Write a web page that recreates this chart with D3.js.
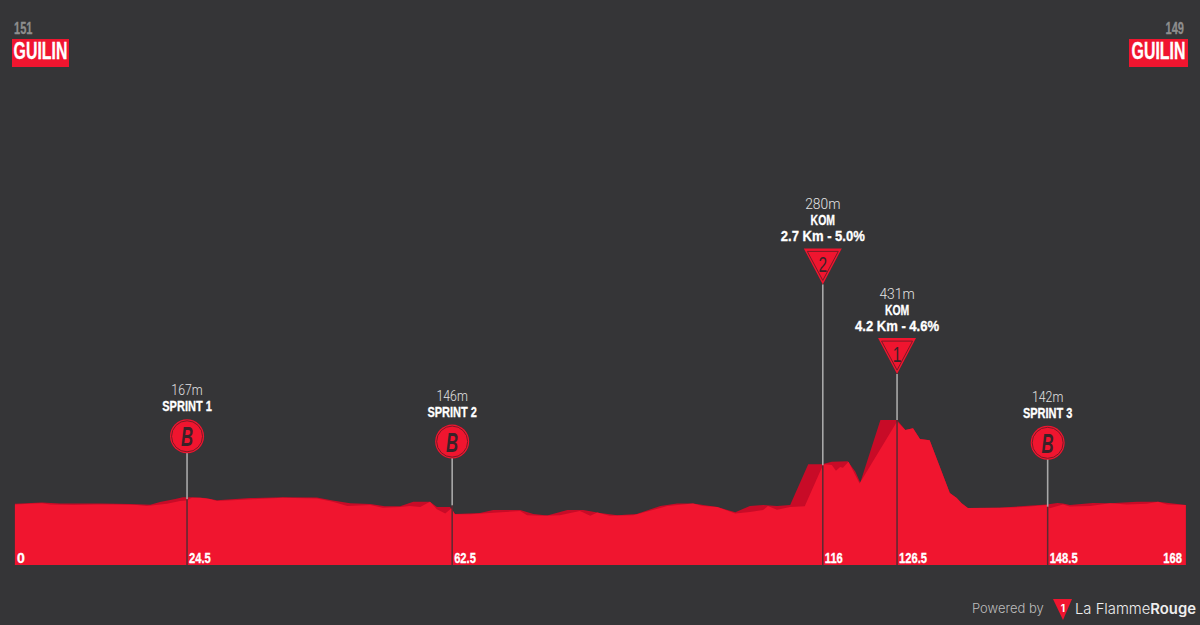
<!DOCTYPE html>
<html>
<head>
<meta charset="utf-8">
<script src="https://cdn.jsdelivr.net/npm/d3@7"></script>
<style>
  html, body { margin: 0; padding: 0; background: #353537; }
  svg { display: block; }
  .bold { font-family: "Liberation Sans", sans-serif; font-weight: 700; fill: #fff; stroke: #fff; stroke-width: 0.3; }
  .thin { font-family: Roboto, sans-serif; font-weight: 300; fill: #e4e4e4; }
</style>
</head>
<body>
<script>
// front profile
var frontKm = [-0.3,1.9,3.6,4.8,8.1,11.5,13.8,17.3,18.7,21.6,23.5,24.4,25.2,26.4,27.8,28.8,31.1,34.6,38.3,43.2,45.5,47.6,50.9,52.7,55.2,56.6,58.1,59.5,60.5,61.7,62.6,63.1,65.3,69.2,72.5,73.5,75.8,78.2,81.1,82.6,83.6,85.4,88.8,91.6,93.7,97.4,98.8,100.9,103.5,105.6,107.5,108.2,109.5,111.4,113.5,116,116.4,117.4,118,118.6,119,119.8,121.4,126.8,128,129.1,130.1,131.5,134.4,135.4,136.1,137,141.6,145,148.4,148.8,150.7,151.7,154.6,157.5,159.9,162.8,164.4,165.7,168.4];
var frontElev = [150,152,154,150,148,150,150,148,145,152,161,163,172,172,168,161,164,168,172,170,159,145,148,139,141,145,141,159,134,120,137,117,117,123,128,114,112,114,128,112,123,112,114,131,145,153,145,141,120,125,131,145,132,141,144,275,284,281,262,275,272,292,220,426,398,404,368,364,188,171,154,138,139,141,148,137,150,143,145,154,150,152,159,150,148];

// back (darker) profile
var backKm = [-0.3,3.6,6.2,12,16.3,19.2,20.6,22.8,23.9,25.2,27.1,28.8,33.6,38.3,43.2,45.5,48,50.9,53,55.2,57.1,59.5,60.5,62.4,63.1,66.7,68.6,72.5,74.4,76.4,79.3,81.6,84,86.5,89.3,92.7,95.1,97.4,100.9,103.5,105.6,107.5,109.5,111.4,114,116,117.4,119.7,120.8,121.5,124.4,126.8,128,129.1,130.1,131.5,134.4,135.4,136.1,137,141.6,148.4,149.9,150.7,151.7,155,157.5,161.4,164.4,168.4];
var backElev = [152,156,153,153,151,149,158,168,174,174,171,164,171,174,173,163,154,151,144,144,159,159,141,141,118,121,131,131,118,113,131,131,121,114,118,145,153,153,141,124,145,148,145,148,284,284,292,294,259,222,431,431,398,404,368,364,188,171,154,138,139,150,155,153,148,155,154,159,159,148];

// markers
var markerKm = [24.5,62.7,116.1,126.8,148.5];
var markerKmLabels = ["24.5","62.5","116","126.5","148.5"];
var markerElev = [167,146,280,431,142];
var markerTypes = ["sprint","sprint","kom","kom","sprint"];
var markerTitles = ["SPRINT 1","SPRINT 2","KOM","KOM","SPRINT 3"];
var markerClimbs = ["","","2.7 Km - 5.0%","4.2 Km - 4.6%",""];
var markerSigns = ["B","B","2","1","B"];
var signLift = [63,64,181,46,64];

var w = 1200, h = 625;
var red = "#f0152f", darkRed = "#c80b27", bg = "#353537", ink = "#3a2228";

var x = d3.scaleLinear().domain([0,168]).range([17,1183]);
var y = d3.scaleLinear().domain([-52,431]).range([565,420.1]);

// no condensed font installed, so narrow the glyphs by hand, keeping the anchor where it is
function squeeze(sel, f) {
  sel.attr("transform", function() {
    var ax = +this.getAttribute("x") || 0;
    return "translate(" + ax * (1 - f) + ",0) scale(" + f + ",1)";
  });
  return sel;
}

var svg = d3.select("body").append("svg").attr("width", w).attr("height", h);
svg.append("rect").attr("width", w).attr("height", h).attr("fill", bg);

var area = d3.area().x(d => x(d[0])).y0(y(-52)).y1(d => y(d[1]));
svg.append("path").attr("d", area(d3.zip(backKm, backElev))).attr("fill", darkRed);
svg.append("path").attr("d", area(d3.zip(frontKm, frontElev))).attr("fill", red);

var markers = markerKm.map((km, i) => ({km: km, label: markerKmLabels[i], elev: markerElev[i], type: markerTypes[i],
  title: markerTitles[i], climb: markerClimbs[i], sign: markerSigns[i], lift: signLift[i]}));

var g = svg.selectAll("g.marker").data(markers).enter().append("g").attr("class", "marker")
    .attr("transform", d => "translate(" + x(d.km) + ",0)");

// grey above the road, dark through the profile
g.append("line").attr("y1", d => y(d.elev) - d.lift).attr("y2", d => y(d.elev)).attr("stroke", "#a8a8a8").attr("stroke-width", 1.6);
g.append("line").attr("y1", d => y(d.elev)).attr("y2", 565).attr("stroke", "#5a2a32").attr("stroke-width", 1.5);

squeeze(g.append("text").attr("class", "bold").attr("x", 2).attr("y", 563).attr("font-size", 14).text(d => d.label), 0.8);

var sprint = g.filter(d => d.type == "sprint");
sprint.append("circle").attr("cy", d => y(d.elev) - d.lift).attr("r", 17).attr("fill", red);
sprint.append("circle").attr("cy", d => y(d.elev) - d.lift).attr("r", 15.5).attr("fill", "none").attr("stroke", "#7a1a26").attr("stroke-width", 1);
squeeze(sprint.append("text").attr("y", d => y(d.elev) - d.lift + 10).attr("text-anchor", "middle").attr("font-size", 27)
    .attr("font-style", "italic").attr("font-weight", 700).attr("font-family", "Liberation Sans").attr("fill", ink).text(d => d.sign), 0.62);
squeeze(sprint.append("text").attr("class", "bold").attr("y", d => y(d.elev) - d.lift - 25).attr("text-anchor", "middle").attr("font-size", 14.5).text(d => d.title), 0.76);
squeeze(sprint.append("text").attr("class", "thin").attr("y", d => y(d.elev) - d.lift - 41).attr("text-anchor", "middle").attr("font-size", 15).text(d => d.elev + "m"), 0.82);

var kom = g.filter(d => d.type == "kom");
kom.append("path").attr("d", d => { var t = y(d.elev) - d.lift; return "M-19," + (t-36) + "H19L0," + t + "Z"; }).attr("fill", red);
kom.append("path").attr("d", d => { var t = y(d.elev) - d.lift - 4; return "M-15.5," + (t-29) + "H15.5L0," + t + "Z"; }).attr("fill", "none").attr("stroke", "#7a1a26").attr("stroke-width", 1);
squeeze(kom.append("text").attr("y", d => y(d.elev) - d.lift - 12).attr("text-anchor", "middle").attr("font-size", 22)
    .attr("font-family", "Liberation Sans").attr("fill", ink).text(d => d.sign), 0.7);
squeeze(kom.append("text").attr("class", "bold").attr("y", d => y(d.elev) - d.lift - 43).attr("text-anchor", "middle").attr("font-size", 14.5).text(d => d.climb), 0.9);
squeeze(kom.append("text").attr("class", "bold").attr("y", d => y(d.elev) - d.lift - 59).attr("text-anchor", "middle").attr("font-size", 14.5).text(d => d.title), 0.72);
squeeze(kom.append("text").attr("class", "thin").attr("y", d => y(d.elev) - d.lift - 75).attr("text-anchor", "middle").attr("font-size", 15).text(d => d.elev + "m"), 0.92);

// km 0 and finish
svg.append("text").attr("class", "bold").attr("x", x(0)).attr("y", 563).attr("font-size", 14).text("0");
squeeze(svg.append("text").attr("class", "bold").attr("x", x(168) - 1).attr("y", 563).attr("text-anchor", "end").attr("font-size", 14).text("168"), 0.8);

// start and finish towns
var townElev = ["151","149"];
var townNames = ["GUILIN","GUILIN"];
var townBoxX = [12,1129], townBoxW = [57,59];
townNames.forEach((name, i) => {
  svg.append("rect").attr("x", townBoxX[i]).attr("y", 39).attr("width", townBoxW[i]).attr("height", 28).attr("fill", red);
  squeeze(svg.append("text").attr("class", "bold").attr("x", townBoxX[i] + townBoxW[i] / 2).attr("y", 59.5).attr("text-anchor", "middle")
    .attr("font-size", 23).text(name), 0.69);
  squeeze(svg.append("text").attr("class", "bold").style("fill", "#8e8e8e").style("stroke", "#8e8e8e").attr("x", i == 0 ? 14 : 1184).attr("y", 34)
    .attr("text-anchor", i == 0 ? "start" : "end").attr("font-size", 17).text(townElev[i]), 0.65);
});

// footer
svg.append("text").attr("x", 972).attr("y", 613).attr("font-family", "Inter").attr("font-size", 13).attr("font-weight", 300).attr("fill", "#bdbdbd").text("Powered by");
svg.append("path").attr("d", "M1053,599H1072L1063,620Z").attr("fill", red);
svg.append("text").attr("x", 1063).attr("y", 612).attr("text-anchor", "middle").attr("font-family", "Inter").attr("font-size", 10).attr("font-weight", 700).attr("fill", "#fff").text("1");
var foot = svg.append("text").attr("x", 1075).attr("y", 614).attr("font-family", "Inter").attr("font-size", 14.8).attr("fill", "#eee");
foot.append("tspan").attr("font-weight", 300).text("La Flamme");
foot.append("tspan").attr("font-weight", 600).text("Rouge");
</script>
</body>
</html>
